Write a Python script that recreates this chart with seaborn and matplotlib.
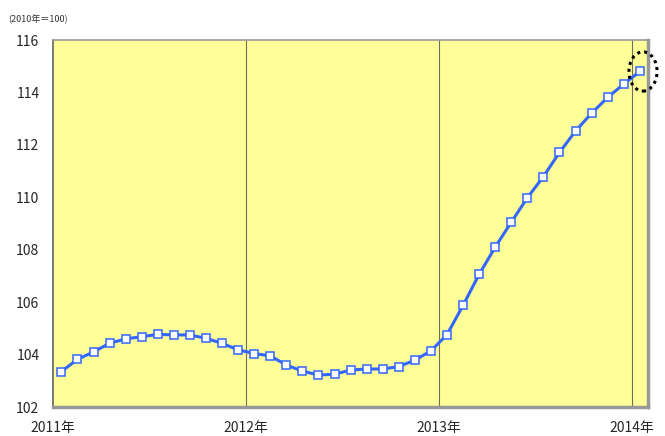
import matplotlib.pyplot as plt
from matplotlib.patches import Ellipse
import numpy as np
import pandas as pd
import seaborn as sns

# 月次指数 (2010年=100)、2011年1月〜2014年1月
values = [
    103.35, 103.82, 104.10, 104.43, 104.60, 104.68, 104.77, 104.75, 104.75, 104.62, 104.43, 104.18,
    104.04, 103.95, 103.60, 103.37, 103.22, 103.25, 103.41, 103.45, 103.45, 103.54, 103.79, 104.14,
    104.76, 105.88, 107.06, 108.10, 109.05, 109.98, 110.79, 111.71, 112.53, 113.21, 113.81, 114.32,
    114.80,
]
months = np.arange(len(values)) + 0.5
year_ticks = [0, 12, 24, 36]
year_labels = ["2011年", "2012年", "2013年", "2014年"]
y_ticks = [102, 104, 106, 108, 110, 112, 114, 116]

df = pd.DataFrame({"month": months, "index": values})

sns.set_style("white")
plt.rcParams["font.family"] = ["Noto Sans CJK JP", "DejaVu Sans"]

fig = plt.figure(figsize=(6.65, 4.36), dpi=100)
ax = fig.add_axes([0.0802, 0.0665, 0.894, 0.8417])
ax.set_facecolor("#FFFF99")

for x in year_ticks[1:]:
    ax.axvline(x, color="#6f6f5a", lw=0.8, zorder=1)

sns.lineplot(data=df, x="month", y="index", ax=ax, color="#3366FF", lw=2.2,
             marker="s", markersize=5.5, markerfacecolor="white",
             markeredgecolor="#3366FF", markeredgewidth=1.1, zorder=3)

# 最新月を囲む点線の楕円
ax.add_patch(Ellipse((36.7, 114.8), 1.75, 1.5, fill=False, ls=(0, (1, 1.3)),
                     lw=2.2, ec="black", clip_on=False, zorder=4))

ax.set_xlim(0, 37)
ax.set_ylim(102, 116)
ax.set_xticks(year_ticks)
ax.set_xticklabels(year_labels, fontsize=10)
ax.set_yticks(y_ticks)
ax.set_yticklabels([str(v) for v in y_ticks], fontsize=10)
ax.tick_params(axis="both", direction="out", length=4, width=0.8, color="#555555", pad=6)
ax.set_xlabel("")
ax.set_ylabel("")
for s in ax.spines.values():
    s.set_color("#999999")
    s.set_linewidth(1.2)
ax.spines["right"].set_linewidth(2.5)
ax.spines["bottom"].set_linewidth(2.5)
ax.spines["left"].set_color("#666666")

fig.text(0.012, 0.955, "(2010年＝100)", fontsize=6.5, color="#333333", va="center")

plt.savefig("out.png", dpi=100)
